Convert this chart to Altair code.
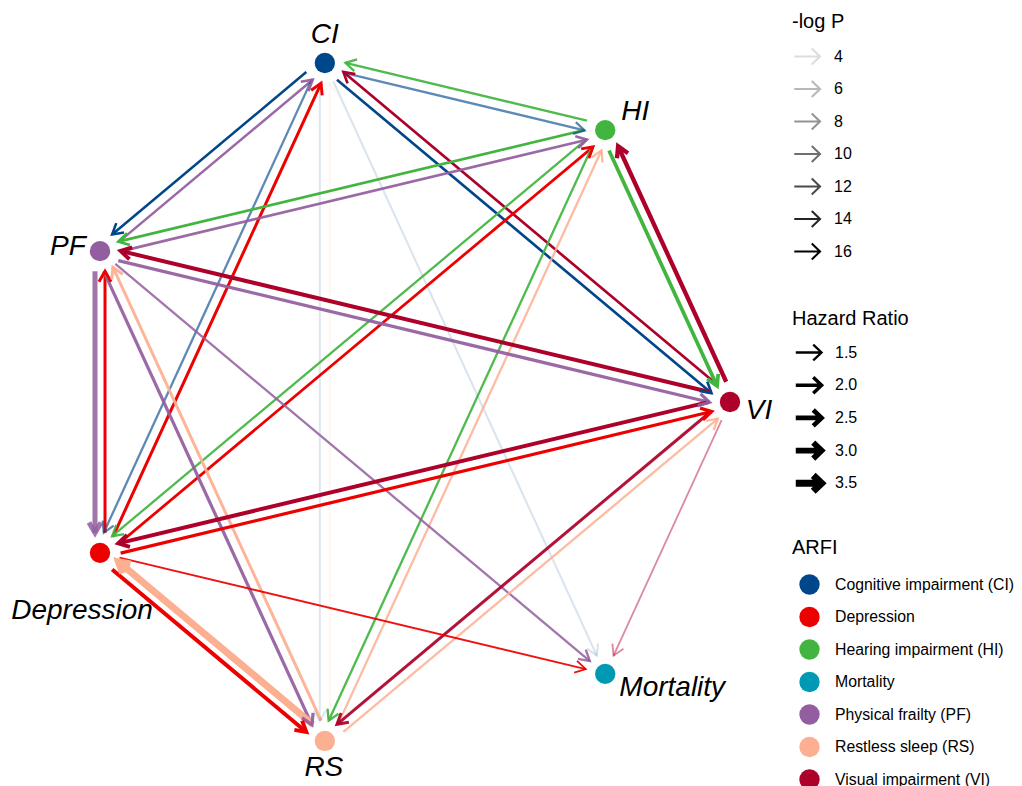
import math
import pandas as pd
import altair as alt

# ---------------- data ----------------
# nodes, counter-clockwise from 3 o'clock (circular layout)
node_order = ["VI", "HI", "CI", "PF", "Depression", "RS", "Mortality"]
node_full = {
    "CI": "Cognitive impairment (CI)",
    "Depression": "Depression",
    "HI": "Hearing impairment (HI)",
    "Mortality": "Mortality",
    "PF": "Physical frailty (PF)",
    "RS": "Restless sleep (RS)",
    "VI": "Visual impairment (VI)",
}
arfi_domain = [
    "Cognitive impairment (CI)", "Depression", "Hearing impairment (HI)", "Mortality",
    "Physical frailty (PF)", "Restless sleep (RS)", "Visual impairment (VI)",
]
arfi_colors = ["#00468B", "#ED0000", "#42B540", "#0099B4", "#925E9F", "#FDAF91", "#AD002A"]

edge_source = ["CI", "PF", "CI", "Depression", "CI", "RS", "CI", "CI", "VI", "HI", "CI",
               "HI", "PF", "HI", "Depression", "HI", "RS", "HI", "VI", "PF", "VI",
               "PF", "Depression", "PF", "RS", "PF", "VI", "Depression", "VI", "RS",
               "VI", "Depression", "RS", "Depression"]
edge_target = ["PF", "CI", "Depression", "CI", "RS", "CI", "Mortality", "VI", "CI", "CI", "HI",
               "PF", "HI", "Depression", "HI", "RS", "HI", "VI", "HI", "VI", "PF",
               "Depression", "PF", "RS", "PF", "Mortality", "Depression", "VI", "RS", "VI",
               "Mortality", "RS", "Depression", "Mortality"]
hazard_ratio = [1.6, 1.6, 1.5, 1.8, 1.4, 1.4, 1.4, 1.65, 1.65, 1.5, 1.5,
                1.65, 1.65, 1.5, 1.7, 1.5, 1.5, 2.1, 2.35, 1.9, 2.2,
                2.65, 1.8, 1.9, 1.8, 1.5, 2.2, 1.9, 1.8, 1.5,
                1.3, 2.2, 3.5, 1.3]
neg_log_p = [16, 15, 11, 16, 4.0, 3.6, 4.2, 16, 16, 15, 11,
             16, 15, 15, 16, 15, 14, 16, 16, 15, 16,
             14, 16, 15, 15, 14, 16, 16, 15, 14,
             8.5, 16, 16, 15]

opacity_legend_values = [4, 6, 8, 10, 12, 14, 16]
hr_legend_values = [1.5, 2.0, 2.5, 3.0, 3.5]

# ---------------- layout / style ----------------
# network drawing area: 760 x 770 px holds the x range [-1.1786, 1.1147]
# and the y range [-1.0814, 1.1332]; the whole figure is 1006 x 778 px
KX = 760 / (1.1147 + 1.1786)
KY = 770 / (1.1332 + 1.0814)
FIG_W, FIG_H = 1006, 778
XDOM = [-1.1786, -1.1786 + FIG_W / KX]
YDOM = [1.1332 - FIG_H / KY, 1.1332]
CAP = 20   # px between node centre and edge end
SEP = 5    # px offset of reciprocal edges
FONT = "Liberation Sans"
ARROW_HEAD = "M-1,-0.577L0,0L-1,0.577"
ARROW_SYMBOL = "M-1,0L0.92,0M0.32,-0.6L0.95,0L0.32,0.6"

label_offset_px = {
    "CI": (0, -28), "HI": (30, -18), "PF": (-32, -4), "VI": (29, 9),
    "Depression": (-18, 58), "Mortality": (67, 14), "RS": (-1, 27),
}

pos = {}
for k, n in enumerate(node_order):
    t = 2 * math.pi * k / len(node_order)
    pos[n] = (math.cos(t), math.sin(t))

nodes_df = pd.DataFrame({
    "node": node_order,
    "x": [pos[n][0] for n in node_order],
    "y": [pos[n][1] for n in node_order],
    "ARFI": [node_full[n] for n in node_order],
    "lx": [pos[n][0] + label_offset_px[n][0] / KX for n in node_order],
    "ly": [pos[n][1] - label_offset_px[n][1] / KY for n in node_order],
})

pairs = set(zip(edge_source, edge_target))
rows = []
for s, t, hr, lp in zip(edge_source, edge_target, hazard_ratio, neg_log_p):
    sx, sy = pos[s][0] * KX, -pos[s][1] * KY
    tx, ty = pos[t][0] * KX, -pos[t][1] * KY
    dx, dy = tx - sx, ty - sy
    L = math.hypot(dx, dy)
    ux, uy = dx / L, dy / L
    rx, ry = -uy, ux
    off = SEP if (t, s) in pairs else 0
    x1p, y1p = sx + ux * CAP + rx * off, sy + uy * CAP + ry * off
    x2p, y2p = tx - ux * CAP + rx * off, ty - uy * CAP + ry * off
    rows.append({
        "ARFI": node_full[s],
        "x": x1p / KX, "y": -y1p / KY,
        "x2": x2p / KX, "y2": -y2p / KY,
        "angle": math.degrees(math.atan2(uy, ux)) % 360,
        "hr": hr, "neglogp": lp,
    })
edges_df = pd.DataFrame(rows)

xs = alt.Scale(domain=XDOM, nice=False, zero=False)
ys = alt.Scale(domain=YDOM, nice=False, zero=False)
cs = alt.Scale(domain=arfi_domain, range=arfi_colors)
ops = alt.Scale(domain=[4, 16], range=[0.13, 1.0], zero=False)
sws = alt.Scale(domain=[1.5, 3.5], range=[2.3, 7.0], zero=False)

op_legend = alt.Legend(
    title="-log P", values=opacity_legend_values, orient="none", legendX=784, legendY=4,
    symbolType=ARROW_SYMBOL, symbolSize=700, symbolStrokeColor="black",
    symbolFillColor="transparent", symbolStrokeWidth=2, symbolOffset=1,
    rowPadding=5.5, titlePadding=11, labelOffset=12, labelFontSize=16,
    gridAlign="all", clipHeight=27,
)
sw_legend = alt.Legend(
    title="Hazard Ratio", values=hr_legend_values, format=".1f", orient="none",
    legendX=784, legendY=301, symbolType=ARROW_SYMBOL, symbolSize=700,
    symbolStrokeColor="black", symbolFillColor="transparent", symbolOffset=0,
    rowPadding=5.7, titlePadding=10, labelOffset=9, labelFontSize=16,
    gridAlign="all", clipHeight=27,
)
col_legend = alt.Legend(
    title="ARFI", orient="none", legendX=784, legendY=530, symbolType="circle",
    symbolSize=415, symbolOffset=7, rowPadding=11.5, titlePadding=16, labelOffset=15,
    symbolStrokeWidth=0, labelFontSize=15.8, labelLimit=400, gridAlign="all",
)

edges = alt.Chart(edges_df).mark_rule(strokeCap="butt").encode(
    x=alt.X("x:Q", scale=xs, axis=None),
    y=alt.Y("y:Q", scale=ys, axis=None),
    x2="x2:Q", y2="y2:Q",
    color=alt.Color("ARFI:N", scale=cs, legend=None),
    opacity=alt.Opacity("neglogp:Q", scale=ops, legend=op_legend),
    strokeWidth=alt.StrokeWidth("hr:Q", scale=sws, legend=sw_legend),
)

heads = alt.Chart(edges_df).mark_point(
    shape=ARROW_HEAD, size=440, filled=False, strokeJoin="miter", strokeCap="butt"
).encode(
    x=alt.X("x2:Q", scale=xs, axis=None),
    y=alt.Y("y2:Q", scale=ys, axis=None),
    angle=alt.Angle("angle:Q", scale=None),
    color=alt.Color("ARFI:N", scale=cs, legend=None),
    opacity=alt.Opacity("neglogp:Q", scale=ops, legend=None),
    strokeWidth=alt.StrokeWidth("hr:Q", scale=sws, legend=None),
)

nodes = alt.Chart(nodes_df).mark_circle(size=415, opacity=1).encode(
    x=alt.X("x:Q", scale=xs, axis=None),
    y=alt.Y("y:Q", scale=ys, axis=None),
    color=alt.Color("ARFI:N", scale=cs, legend=col_legend),
)

labels = alt.Chart(nodes_df).mark_text(
    font=FONT, fontSize=28, fontStyle="italic", align="center", baseline="middle", color="black"
).encode(
    x=alt.X("lx:Q", scale=xs, axis=None),
    y=alt.Y("ly:Q", scale=ys, axis=None),
    text="node:N",
)

chart = alt.layer(edges, heads, nodes, labels).resolve_legend(
    color="independent"
).properties(
    width=FIG_W, height=FIG_H, padding=0,
    autosize=alt.AutoSizeParams(type="none"),
).configure_view(stroke=None).configure_legend(
    titleFont=FONT, titleFontSize=20, titleFontWeight="normal", titleColor="black",
    labelFont=FONT, labelFontSize=16, labelColor="black", padding=0,
)

chart.save("out.html", embed_options={"renderer": "svg", "actions": False})
